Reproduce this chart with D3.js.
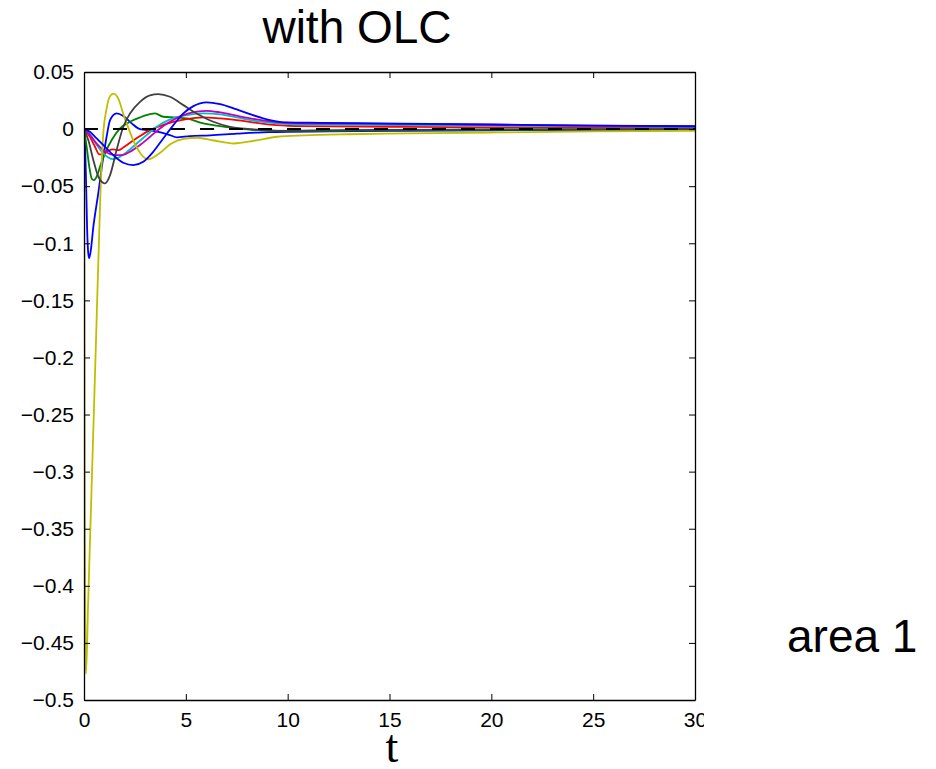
<!DOCTYPE html>
<html>
<head>
<meta charset="utf-8">
<script src="https://cdn.jsdelivr.net/npm/d3@7"></script>
<style>
  body { margin: 0; background: #fff; }
  svg { display: block; }
  .tick text { font-family: "Liberation Sans", Arial, sans-serif; font-size: 21px; fill: #000; }
</style>
</head>
<body>
<div id="chart"></div>
<script>
// axis ticks
var xTicks = [0, 5, 10, 15, 20, 25, 30];
var yTicks = [0.05, 0, -0.05, -0.1, -0.15, -0.2, -0.25, -0.3, -0.35, -0.4, -0.45, -0.5];
var yTickLabels = ["0.05", "0", "\u22120.05", "\u22120.1", "\u22120.15", "\u22120.2", "\u22120.25", "\u22120.3", "\u22120.35", "\u22120.4", "\u22120.45", "\u22120.5"];

// curves (t, value)
var blue1T = [0, 0.05, 0.1, 0.15, 0.2, 0.25, 0.32, 0.46, 0.7, 0.95, 1.11, 1.28, 1.6, 1.93, 2.34, 2.75, 3.4, 4.22, 4.55, 5.2, 6.2, 7.5, 9.1, 12, 15.5, 20, 30];
var blue1V = [0, -0.012, -0.045, -0.085, -0.107, -0.113, -0.108, -0.0855, -0.0563, -0.0242, -0.0067, 0.0079, 0.0137, 0.0114, 0.005, 0, -0.0015, -0.0052, -0.0073, -0.0061, -0.0055, -0.004, -0.0026, -0.002, -0.0015, -0.001, -0.0003];

var greenT = [0, 0.13, 0.26, 0.376, 0.49, 0.622, 0.786, 1.03, 1.36, 1.77, 2.26, 2.75, 3.24, 3.49, 3.89, 4.55, 5.04, 5.86, 6.68, 7.5, 8.48, 9.95, 12, 15, 20, 30];
var greenV = [0, -0.0155, -0.033, -0.0432, -0.0447, -0.0417, -0.033, -0.0213, -0.0096, 0.0006, 0.0064, 0.0102, 0.0131, 0.0137, 0.0108, 0.0102, 0.0093, 0.005, 0.0026, 0.0006, -0.0009, -0.0015, -0.0015, -0.001, -0.0005, 0];

var redT = [0, 0.29, 0.54, 0.753, 0.95, 1.19, 1.44, 1.69, 1.93, 2.26, 2.75, 3.24, 3.73, 4.39, 5.04, 5.86, 6.68, 7.5, 8.48, 9.46, 10.77, 15.5, 20, 30];
var redV = [0, -0.0067, -0.0155, -0.0222, -0.0219, -0.019, -0.0178, -0.0184, -0.0161, -0.012, -0.0061, -0.0009, 0.0026, 0.0064, 0.0088, 0.0102, 0.0093, 0.0079, 0.0055, 0.0035, 0.0026, 0.002, 0.0015, 0.001];

var cyanT = [0, 0.29, 0.622, 0.95, 1.19, 1.44, 1.77, 2.18, 2.59, 3.08, 3.57, 4.22, 5.04, 5.86, 6.68, 7.5, 8.48, 9.46, 10.77, 15.5, 20, 30];
var cyanV = [0, -0.0044, -0.014, -0.0213, -0.0248, -0.0263, -0.0242, -0.019, -0.0126, -0.0052, 0.002, 0.0085, 0.0123, 0.0137, 0.0128, 0.0102, 0.007, 0.005, 0.0041, 0.0035, 0.003, 0.002];

var magentaT = [0, 0.29, 0.622, 0.95, 1.28, 1.6, 1.93, 2.26, 2.75, 3.24, 3.73, 4.22, 4.88, 5.53, 6.02, 6.68, 7.5, 8.48, 9.46, 10.77, 15.5, 20, 25, 30];
var magentaV = [0, -0.0052, -0.0126, -0.0184, -0.0219, -0.0228, -0.0225, -0.0199, -0.014, -0.0067, 0.0006, 0.0064, 0.0123, 0.0152, 0.016, 0.0146, 0.0117, 0.0085, 0.0061, 0.005, 0.0044, 0.0038, 0.003, 0.0025];

var yellowT = [0, 0.02, 0.04, 0.07, 0.1, 0.2, 0.4, 0.6, 0.8, 0.95, 1.1, 1.25, 1.45, 1.7, 1.95, 2.2, 2.5, 2.8, 3.15, 3.74, 4.25, 4.9, 5.56, 6.38, 7.36, 8.35, 9.5, 10.8, 13, 16, 20, 25, 30];
var yellowV = [0, -0.12, -0.33, -0.46, -0.477, -0.417, -0.298, -0.179, -0.06, -0.003, 0.017, 0.028, 0.031, 0.026, 0.012, 0, -0.013, -0.022, -0.0265, -0.0207, -0.0131, -0.0085, -0.0076, -0.01, -0.0126, -0.0102, -0.0067, -0.0055, -0.0045, -0.0038, -0.003, -0.002, -0.0015];

var grayT = [0, 0.21, 0.458, 0.704, 0.95, 1.03, 1.28, 1.6, 1.93, 2.26, 2.75, 3.24, 3.65, 4.22, 4.88, 5.53, 6.35, 7.17, 8.15, 9.46, 12.4, 16, 20, 30];
var grayV = [0, -0.0096, -0.0271, -0.0417, -0.0472, -0.0476, -0.0403, -0.0184, 0.002, 0.0137, 0.0239, 0.0295, 0.0306, 0.0283, 0.021, 0.0137, 0.0064, 0.002, 0, -0.0015, -0.0009, -0.0006, -0.0003, 0];

var blue2T = [0, 0.29, 0.622, 0.95, 1.44, 1.93, 2.42, 2.91, 3.4, 3.89, 4.39, 4.88, 5.37, 6.02, 6.68, 7.5, 8.15, 9.13, 9.95, 11.59, 15.5, 20, 25, 30];
var blue2V = [0, -0.0023, -0.0082, -0.014, -0.0228, -0.0295, -0.0315, -0.0286, -0.0199, -0.0082, 0.0035, 0.0137, 0.0201, 0.0234, 0.0219, 0.0172, 0.0131, 0.0079, 0.0058, 0.0055, 0.0048, 0.004, 0.003, 0.0025];

var dashT = [0, 30];
var dashV = [0, 0];

var series = [
    { t: blue1T, v: blue1V, color: "#0000ff" },
    { t: greenT, v: greenV, color: "#008000" },
    { t: redT, v: redV, color: "#ff0000" },
    { t: cyanT, v: cyanV, color: "#00bfbf" },
    { t: magentaT, v: magentaV, color: "#bf00bf" },
    { t: yellowT, v: yellowV, color: "#bfbf00" },
    { t: grayT, v: grayV, color: "#404040" },
    { t: blue2T, v: blue2V, color: "#0000ff" }
];

function draw() {
    var width = 936, height = 769;
    var plotLeft = 84, plotRight = 695, plotTop = 72, plotBottom = 700;

    var svg = d3.select("#chart").append("svg")
        .attr("width", width)
        .attr("height", height);

    var defs = svg.append("defs");
    defs.append("clipPath").attr("id", "plotclip")
        .append("rect").attr("x", plotLeft).attr("y", plotTop)
        .attr("width", plotRight - plotLeft).attr("height", plotBottom - plotTop);
    defs.append("clipPath").attr("id", "figclip")
        .append("rect").attr("x", 0).attr("y", 0).attr("width", 704).attr("height", height);

    var x = d3.scaleLinear().domain([0, 30]).range([plotLeft, plotRight]);
    var y = d3.scaleLinear().domain([-0.5, 0.05]).range([plotBottom, plotTop]);

    var fig = svg.append("g").attr("clip-path", "url(#figclip)");

    var lineGen = d3.line()
        .x(function(d) { return x(d[0]); })
        .y(function(d) { return y(d[1]); })
        .curve(d3.curveMonotoneX);

    var lines = fig.append("g").attr("clip-path", "url(#plotclip)");

    series.forEach(function(s) {
        var pts = s.t.map(function(tt, i) { return [tt, s.v[i]]; });
        lines.append("path")
            .datum(pts)
            .attr("d", lineGen)
            .attr("fill", "none")
            .attr("stroke", s.color)
            .attr("stroke-width", 1.8);
    });

    // dashed reference line
    lines.append("path")
        .datum(dashT.map(function(tt, i) { return [tt, dashV[i]]; }))
        .attr("d", d3.line().x(function(d) { return x(d[0]); }).y(function(d) { return y(d[1]); }))
        .attr("fill", "none")
        .attr("stroke", "#000")
        .attr("stroke-width", 2)
        .style("stroke-dasharray", "14,15");

    // axes, ticks pointing inward like matlab
    fig.append("g")
        .attr("transform", "translate(0," + plotBottom + ")")
        .call(d3.axisBottom(x).tickValues(xTicks).tickSize(-6).tickSizeOuter(0).tickPadding(12).tickFormat(d3.format("d")));

    fig.append("g")
        .attr("transform", "translate(" + plotLeft + ",0)")
        .call(d3.axisLeft(y).tickValues(yTicks).tickSize(-6).tickSizeOuter(0).tickPadding(10)
            .tickFormat(function(d, i) { return yTickLabels[i]; }));

    fig.append("g")
        .attr("transform", "translate(0," + plotTop + ")")
        .call(d3.axisTop(x).tickValues(xTicks).tickSize(-6).tickSizeOuter(0).tickFormat(""));

    fig.append("g")
        .attr("transform", "translate(" + plotRight + ",0)")
        .call(d3.axisRight(y).tickValues(yTicks).tickSize(-6).tickSizeOuter(0).tickFormat(""));

    fig.selectAll(".domain").attr("stroke", "#000").attr("stroke-width", 1.3);
    fig.selectAll(".tick line").attr("stroke", "#000");

    // texts
    svg.append("text")
        .attr("x", 357).attr("y", 43)
        .attr("text-anchor", "middle")
        .style("font-family", "'Liberation Sans', Arial, sans-serif")
        .style("font-size", "46px")
        .text("with OLC");

    svg.append("text")
        .attr("x", 392).attr("y", 762)
        .attr("text-anchor", "middle")
        .style("font-family", "'Liberation Serif', 'Times New Roman', serif")
        .style("font-size", "46px")
        .text("t");

    svg.append("text")
        .attr("x", 787).attr("y", 652)
        .style("font-family", "'Liberation Sans', Arial, sans-serif")
        .style("font-size", "46px")
        .text("area 1");
}

draw();
</script>
</body>
</html>
